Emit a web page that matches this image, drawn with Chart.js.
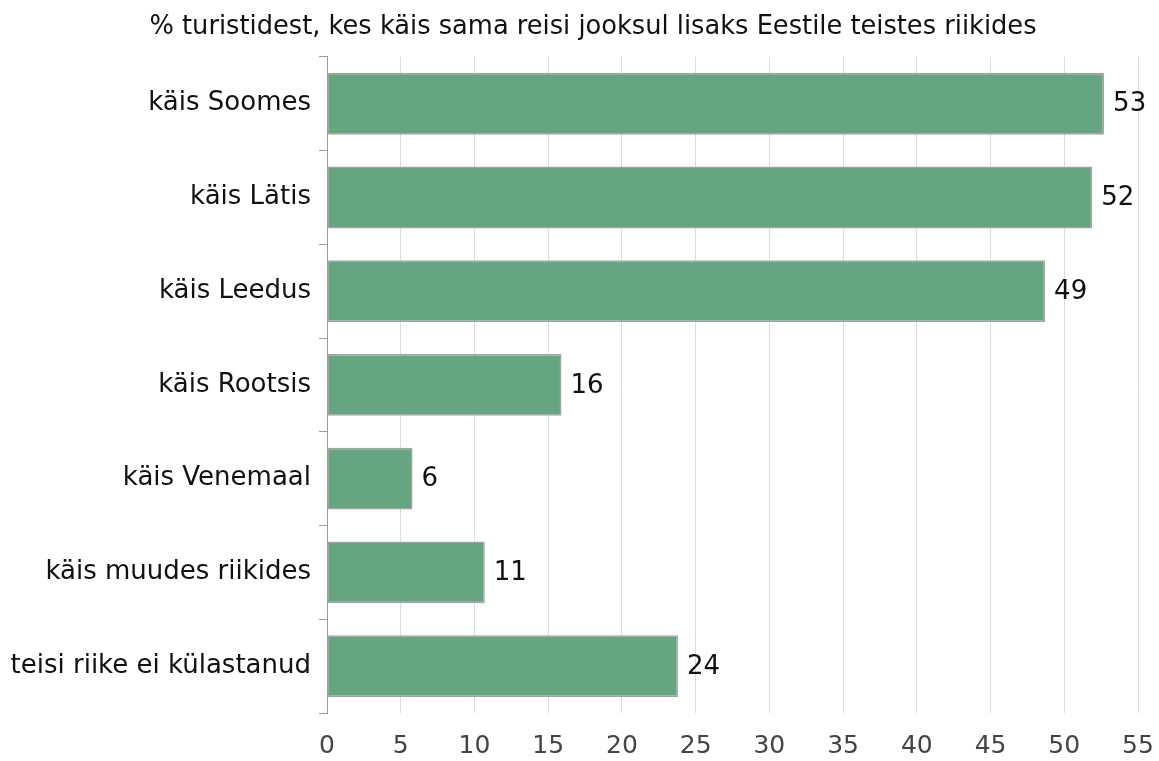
<!DOCTYPE html>
<html>
<head>
<meta charset="utf-8">
<script src="https://cdn.jsdelivr.net/npm/chart.js@4"></script>
<style>
  html, body { margin: 0; padding: 0; background: #fff; }
  #wrap { width: 1159px; height: 761px; }
</style>
</head>
<body>
<div id="wrap"><canvas id="myChart" width="1159" height="761"></canvas></div>
<script>
var TITLE = '% turistidest, kes käis sama reisi jooksul lisaks Eestile teistes riikides';
var CATEGORIES = ['käis Soomes', 'käis Lätis', 'käis Leedus', 'käis Rootsis', 'käis Venemaal', 'käis muudes riikides', 'teisi riike ei külastanud'];
var VALUES = [52.7, 51.9, 48.7, 15.9, 5.8, 10.7, 23.8];
var X_TICKS = [0, 5, 10, 15, 20, 25, 30, 35, 40, 45, 50, 55];

var FONT = '"DejaVu Sans", sans-serif';

// draws the rounded value at the end of each bar
var valueLabels = {
    id: 'valueLabels',
    afterDatasetsDraw: function (chart) {
        var ctx = chart.ctx,
            meta = chart.getDatasetMeta(0);
        ctx.save();
        ctx.font = '26px ' + FONT;
        ctx.fillStyle = '#111';
        ctx.textAlign = 'left';
        ctx.textBaseline = 'middle';
        meta.data.forEach(function (bar, i) {
            ctx.fillText(Math.round(VALUES[i]), bar.x + 9, bar.y + 1);
        });
        ctx.restore();
    }
};

// title sits a bit right of the canvas centre in the original
var shiftTitle = {
    id: 'shiftTitle',
    afterLayout: function (chart) {
        if (chart.titleBlock) {
            chart.titleBlock.left = 48;
        }
    }
};

new Chart(document.getElementById('myChart').getContext('2d'), {
    type: 'bar',
    data: {
        labels: CATEGORIES,
        datasets: [{
            data: VALUES,
            backgroundColor: '#65a580',
            borderColor: '#a3a3a3',
            borderWidth: 1.5,
            borderSkipped: false,
            barPercentage: 0.66,
            categoryPercentage: 1
        }]
    },
    options: {
        indexAxis: 'y',
        responsive: false,
        animation: false,
        layout: { padding: { left: 0, right: 21, top: 0, bottom: 0 } },
        plugins: {
            legend: { display: false },
            tooltip: { enabled: false },
            title: {
                display: true,
                text: TITLE,
                color: '#111',
                font: { family: FONT, size: 25.7, weight: 'normal' },
                padding: { top: 12, bottom: 14 }
            }
        },
        scales: {
            x: {
                min: 0,
                max: 55,
                afterBuildTicks: function (scale) {
                    scale.ticks = X_TICKS.map(function (v) { return { value: v }; });
                },
                afterFit: function (scale) {
                    scale.height = 48;
                    scale.paddingRight = 0;
                    scale.paddingLeft = 0;
                },
                border: { display: false },
                grid: { color: '#dcdcdc', lineWidth: 1, drawTicks: false },
                ticks: {
                    color: '#444',
                    padding: 18,
                    font: { family: FONT, size: 25 }
                }
            },
            y: {
                afterFit: function (scale) { scale.width = 327; },
                border: { display: true, color: '#9a9a9a', width: 1 },
                grid: {
                    offset: true,
                    drawOnChartArea: false,
                    drawTicks: true,
                    tickLength: 8,
                    color: '#9a9a9a'
                },
                ticks: {
                    color: '#111',
                    padding: 8,
                    font: { family: FONT, size: 26 }
                }
            }
        }
    },
    plugins: [valueLabels, shiftTitle]
});
</script>
</body>
</html>
